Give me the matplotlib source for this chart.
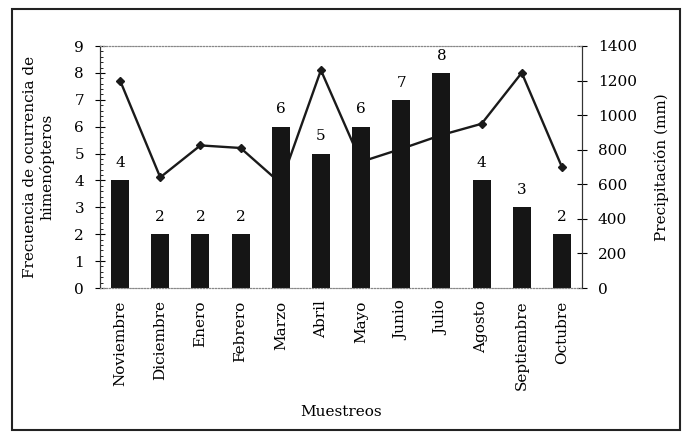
import matplotlib
matplotlib.use("Agg")
import matplotlib.pyplot as plt
from matplotlib.patches import Rectangle
from matplotlib.ticker import MultipleLocator

plt.rcParams["font.family"] = ["DejaVu Serif"]

months = ["Noviembre", "Diciembre", "Enero", "Febrero", "Marzo", "Abril",
          "Mayo", "Junio", "Julio", "Agosto", "Septiembre", "Octubre"]
frecuencia = [4, 2, 2, 2, 6, 5, 6, 7, 8, 4, 3, 2]
precipitacion = [1200, 640, 825, 810, 605, 1260, 730, 805, 885, 950, 1245, 700]

fig = plt.figure(figsize=(6.9, 4.32), dpi=100)
ax = fig.add_axes([100 / 690, 1 - 288 / 432, 482 / 690, 242 / 432])
ax2 = ax.twinx()

# line behind the bars
ax.set_zorder(ax2.get_zorder() + 1)
ax.patch.set_visible(False)

x = list(range(len(months)))
bars = ax.bar(x, frecuencia, width=0.45, color="#151515")
for xi, v in zip(x, frecuencia):
    ax.text(xi, v + 0.38, str(v), ha="center", va="bottom", fontsize=11)

ax2.plot(x, precipitacion, color="#1a1a1a", lw=1.7, marker="D", ms=4)

ax.set_xlim(-0.5, len(months) - 0.5)
ax.set_ylim(0, 9)
ax2.set_ylim(0, 1400)
ax.yaxis.set_major_locator(MultipleLocator(1))
ax.yaxis.set_minor_locator(MultipleLocator(0.2))
ax2.yaxis.set_major_locator(MultipleLocator(200))

ax.set_xticks(x)
ax.set_xticklabels(months, rotation=90, fontsize=11)
ax.tick_params(axis="x", length=0, pad=9)
ax.tick_params(axis="y", which="major", direction="inout", length=7, labelsize=11, pad=8)
ax.tick_params(axis="y", which="minor", direction="in", length=2)
ax2.tick_params(axis="y", direction="inout", length=7, labelsize=11, pad=8)

for a in (ax, ax2):
    a.spines["top"].set_linestyle(":")
    a.spines["top"].set_color("#888888")
    a.spines["bottom"].set_linestyle(":")
    a.spines["bottom"].set_color("#888888")
    a.spines["left"].set_color("#333333")
    a.spines["right"].set_color("#333333")

ax.set_ylabel("Frecuencia de ocurrencia de\nhimenópteros", fontsize=11, labelpad=14)
ax2.set_ylabel("Precipitación (mm)", fontsize=11, labelpad=12)
ax.set_xlabel("Muestreos", fontsize=11, labelpad=11)

fig.patches.append(Rectangle((12 / 690, 0.004), 668 / 690, 1 - 9 / 432 - 0.004,
                             transform=fig.transFigure, fill=False,
                             edgecolor="#222222", lw=1.5))

fig.savefig("out.png", dpi=100)
